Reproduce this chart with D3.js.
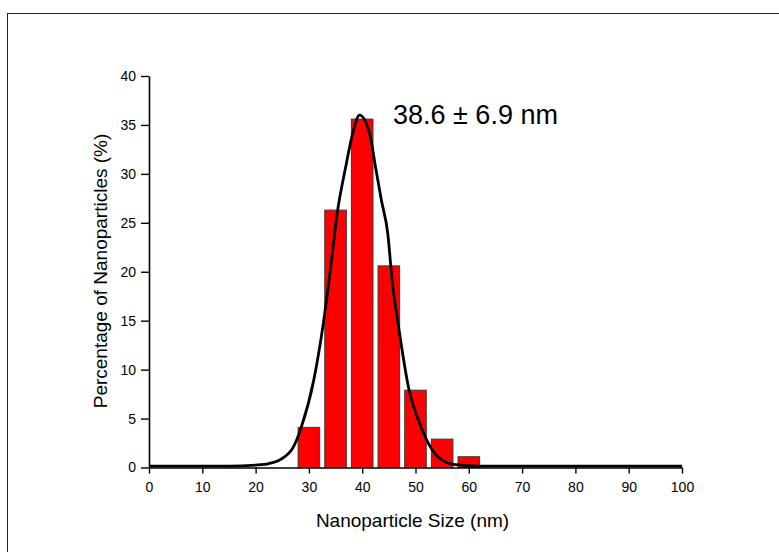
<!DOCTYPE html>
<html>
<head>
<meta charset="utf-8">
<script src="https://cdn.jsdelivr.net/npm/d3@7"></script>
<style>
  body { margin: 0; background: #fff; }
  svg { display: block; font-family: "Liberation Sans", Arial, sans-serif; }
</style>
</head>
<body>
<svg id="chart"></svg>
<script>
// histogram bins (nm) and percentage of particles in each
const binCenters = [30, 35, 40, 45, 50, 55, 60];
const percentages = [4.1, 26.3, 35.6, 20.6, 7.9, 2.9, 1.1];

// fitted distribution curve
const fitX = [0, 10, 15, 20, 22.5, 24.6, 27.1, 28.5, 30.9, 32.7, 33.8, 35.4, 36.9, 38.2, 39.5,
  41.4, 42.5, 43.6, 44.8, 45.6, 46.9, 48.8, 50.5, 52.1, 54.2, 57.4, 62, 70, 80, 90, 100];
const fitY = [0.15, 0.15, 0.15, 0.25, 0.4, 0.8, 2.1, 4.0, 8.9, 14.7, 19.2, 26.3, 30.7, 34.1, 36.0,
  34.1, 30.7, 27.3, 23.9, 19.2, 14.1, 7.9, 4.9, 2.8, 1.1, 0.3, 0.15, 0.15, 0.15, 0.15, 0.15];

const xTicks = [0, 10, 20, 30, 40, 50, 60, 70, 80, 90, 100];
const yTicks = [0, 5, 10, 15, 20, 25, 30, 35, 40];
const annotation = "38.6 \u00b1 6.9 nm";

const width = 779, height = 552;
const margin = {left: 149, right: 97, top: 76, bottom: 84.5};
const binWidth = 5, barFrac = 0.81;

const svg = d3.select("#chart")
  .attr("width", width)
  .attr("height", height);

// outer frame (runs off the right and bottom edge)
svg.append("rect")
  .attr("x", 7.5).attr("y", 13.5)
  .attr("width", width).attr("height", height)
  .attr("fill", "none")
  .attr("stroke", "#222")
  .attr("stroke-width", 1);

const x = d3.scaleLinear().domain([0, 100]).range([margin.left, width - margin.right]);
const y = d3.scaleLinear().domain([0, 40]).range([height - margin.bottom, margin.top]);

// bars
svg.selectAll(".bar")
  .data(binCenters)
  .enter()
  .append("rect")
  .attr("class", "bar")
  .attr("x", (d) => x(d - binWidth * barFrac / 2))
  .attr("width", (d) => x(d + binWidth * barFrac / 2) - x(d - binWidth * barFrac / 2))
  .attr("y", (d, i) => y(percentages[i]))
  .attr("height", (d, i) => y(0) - y(percentages[i]))
  .attr("fill", "#ff0000")
  .attr("stroke", "#3a3a3a")
  .attr("stroke-width", 1);

// axes
const xMinor = d3.range(5, 100, 10);
const yMinor = d3.range(2.5, 40, 5);

const gx = svg.append("g").attr("transform", `translate(0,${y(0)})`);
gx.call(d3.axisBottom(x).tickValues(xMinor).tickSize(4).tickFormat(""));
gx.call(d3.axisBottom(x).tickValues(xTicks).tickSize(6).tickSizeOuter(0).tickPadding(9));

const gy = svg.append("g").attr("transform", `translate(${x(0)},0)`);
gy.call(d3.axisLeft(y).tickValues(yMinor).tickSize(5).tickFormat(""));
gy.call(d3.axisLeft(y).tickValues(yTicks).tickSize(8).tickSizeOuter(0).tickPadding(5));

svg.selectAll(".domain").attr("stroke", "#000").attr("stroke-width", 1.6);
svg.selectAll(".tick line").attr("stroke", "#000").attr("stroke-width", 1.4);
svg.selectAll(".tick text")
  .attr("fill", "#000")
  .style("font-size", "14px")
  .style("font-family", "'Liberation Sans', Arial, sans-serif");

// fit curve
const fitData = fitX.map((d, i) => [d, fitY[i]]);
svg.append("path")
  .datum(fitData)
  .attr("fill", "none")
  .attr("stroke", "#000")
  .attr("stroke-width", 2.8)
  .attr("stroke-linejoin", "round")
  .attr("d", d3.line().x((d) => x(d[0])).y((d) => y(d[1])).curve(d3.curveMonotoneX));

// annotation
svg.append("text")
  .attr("x", 393)
  .attr("y", 124)
  .attr("fill", "#000")
  .style("font-size", "27px")
  .text(annotation);

// axis titles
svg.append("text")
  .attr("x", 412.5)
  .attr("y", 527)
  .attr("text-anchor", "middle")
  .style("font-size", "19px")
  .text("Nanoparticle Size (nm)");

svg.append("text")
  .attr("transform", "translate(107,271) rotate(-90)")
  .attr("text-anchor", "middle")
  .style("font-size", "19px")
  .text("Percentage of Nanoparticles (%)");
</script>
</body>
</html>
